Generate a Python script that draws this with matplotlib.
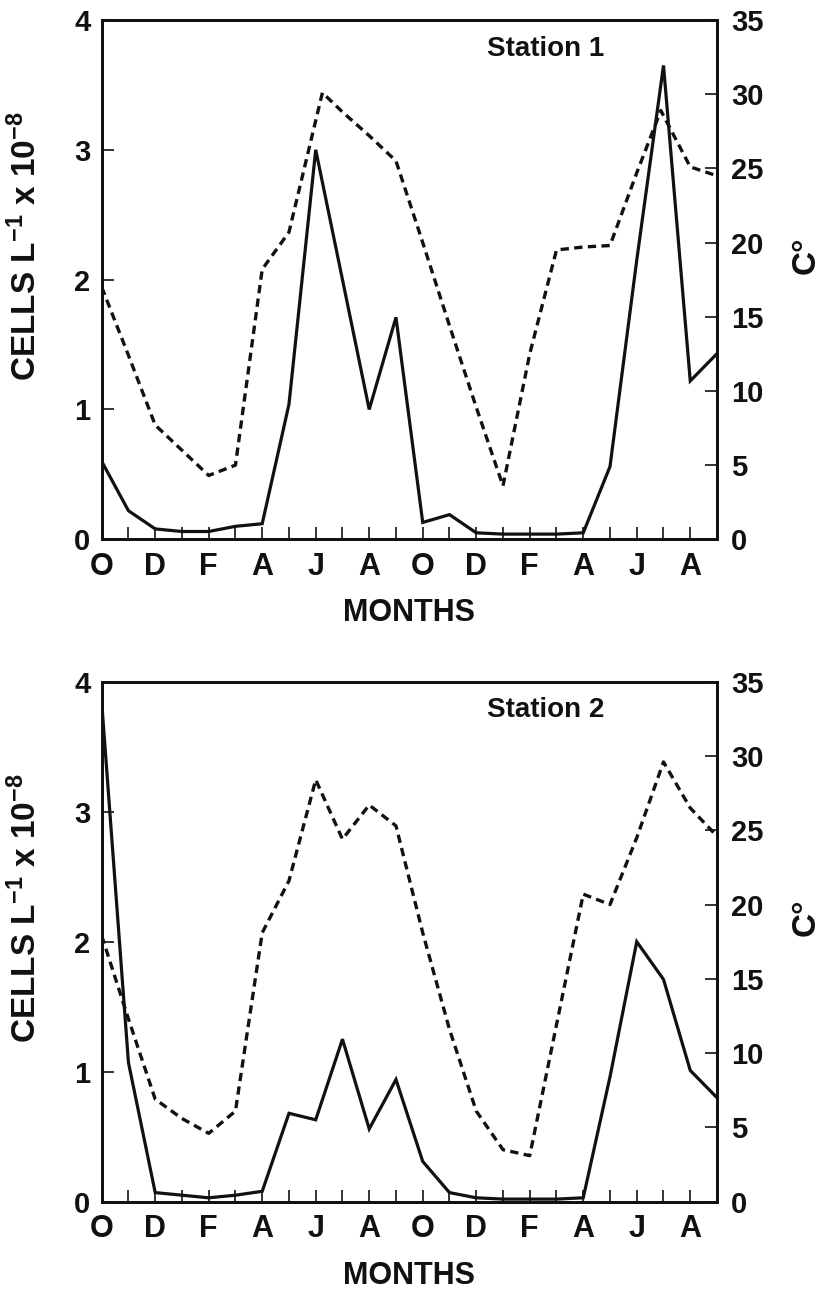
import matplotlib
matplotlib.use("Agg")
import matplotlib.pyplot as plt

plt.rcParams['font.family'] = ['Liberation Sans', 'DejaVu Sans']
plt.rcParams['font.weight'] = 'bold'
plt.rcParams['mathtext.fontset'] = 'custom'
plt.rcParams['mathtext.rm'] = 'Liberation Sans:bold'
plt.rcParams['mathtext.bf'] = 'Liberation Sans:bold'
plt.rcParams['mathtext.it'] = 'Liberation Sans:bold'

# ---- data ----
months = list(range(24))
month_labels = ['O', 'D', 'F', 'A', 'J', 'A', 'O', 'D', 'F', 'A', 'J', 'A']

# Station 1
s1_cells = [0.60, 0.22, 0.08, 0.06, 0.06, 0.10, 0.12, 1.04, 3.00, 2.00, 1.00, 1.71,
            0.13, 0.19, 0.05, 0.04, 0.04, 0.04, 0.05, 0.56, 2.15, 3.65, 1.22, 1.43]
s1_temp_x = [0, 1, 2, 3, 4, 5, 6, 7, 8.25, 9, 10, 11,
             12, 13, 14, 15, 16, 17, 18, 19, 20, 20.9, 22, 23]
s1_temp = [17.0, 12.4, 7.7, 6.0, 4.3, 5.0, 18.2, 20.7, 30.1, 28.8, 27.2, 25.5,
           20.0, 14.4, 8.9, 3.6, 12.5, 19.5, 19.7, 19.8, 24.7, 28.9, 25.1, 24.5]

# Station 2
s2_cells = [3.84, 1.07, 0.07, 0.05, 0.03, 0.05, 0.08, 0.68, 0.63, 1.25, 0.56, 0.94,
            0.31, 0.07, 0.03, 0.02, 0.02, 0.02, 0.03, 0.96, 2.00, 1.71, 1.01, 0.80]
s2_temp_x = list(range(24))
s2_temp = [17.9, 12.3, 6.9, 5.6, 4.6, 6.1, 18.1, 21.6, 28.4, 24.4, 26.7, 25.3,
           18.1, 11.6, 6.1, 3.5, 3.1, 11.9, 20.7, 20.0, 24.5, 29.6, 26.5, 24.6]

stations = [
    ("Station 1", s1_cells, s1_temp_x, s1_temp),
    ("Station 2", s2_cells, s2_temp_x, s2_temp),
]

W, H = 835, 1293
fig = plt.figure(figsize=(W / 100, H / 100), dpi=100)
fig.patch.set_facecolor('white')

left = 101.7 / W
width = (717 - 101.7) / W
panels_px = [(20, 539.3), (681.7, 1201.7)]
ink = '#111111'

for (name, cells, tx, temp), (top_px, bot_px) in zip(stations, panels_px):
    ax = fig.add_axes([left, 1 - bot_px / H, width, (bot_px - top_px) / H])
    ax2 = ax.twinx()

    ax.plot(months, cells, color=ink, lw=2.3, solid_joinstyle='miter')
    ax2.plot(tx, temp, color=ink, lw=2.4, linestyle=(0, (2.5, 1.6)))

    ax.set_xlim(0, 23)
    ax.set_ylim(0, 4)
    ax2.set_ylim(0, 35)

    ax.set_yticks([0, 1, 2, 3, 4])
    ax2.set_yticks(range(0, 36, 5))
    ax.set_xticks(range(0, 23))
    ax.set_xticklabels([month_labels[i // 2] if i % 2 == 0 else '' for i in range(23)])

    ax.tick_params(axis='both', direction='in', length=8.5, width=1.2, color=ink)
    ax.tick_params(axis='y', labelsize=21, pad=8)
    ax.tick_params(axis='x', labelsize=22, pad=9)
    ax2.tick_params(axis='y', direction='in', length=8.5, width=1.2, labelsize=21, pad=10,
                    color=ink)

    for a in (ax, ax2):
        for sp in a.spines.values():
            sp.set_linewidth(2.0)
            sp.set_color(ink)
        for lab in a.get_xticklabels() + a.get_yticklabels():
            lab.set_fontweight('bold')
            lab.set_color(ink)

    ax.set_xlabel('MONTHS', fontsize=22, fontweight='bold', color=ink, labelpad=12)

    cy = 1 - (top_px + 0.435 * (bot_px - top_px)) / H
    fig.text(26 / W, cy, r'CELLS L$^{-1}$ x 10$^{-8}$', fontsize=24, fontweight='bold',
             color=ink, rotation=90, ha='center', va='center')
    cy2 = 1 - (top_px + 0.453 * (bot_px - top_px)) / H
    fig.text(806 / W, cy2, 'C°', fontsize=24, fontweight='bold', color=ink,
             rotation=90, ha='center', va='center')

    ax.text(0.722, 0.945, name, transform=ax.transAxes, fontsize=20, fontweight='bold',
            ha='center', va='center', color=ink)

fig.savefig('out.png', dpi=100, facecolor='white')
